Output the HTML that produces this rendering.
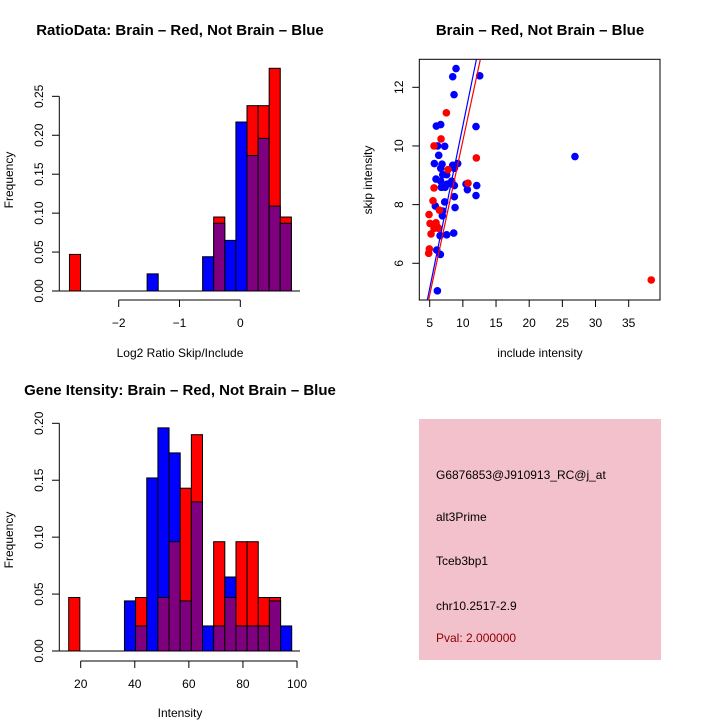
<!DOCTYPE html>
<html><head><meta charset="utf-8"><style>
html,body{margin:0;padding:0;background:#fff;}
svg{display:block;font-family:"Liberation Sans",sans-serif;}
</style></head><body>
<svg id="c" width="720" height="720" xmlns="http://www.w3.org/2000/svg">
<rect x="0" y="0" width="720" height="720" fill="#fff"/>
<g id="g1"></g>
<g id="g2"></g>
<g id="g3"></g>
<g id="g4">
<rect x="419" y="419" width="242" height="241" fill="#f3c1cc"/>
<text x="436" y="479" font-size="12">G6876853@J910913_RC@j_at</text>
<text x="436" y="521" font-size="12">alt3Prime</text>
<text x="436" y="565" font-size="12">Tceb3bp1</text>
<text x="436" y="610" font-size="12">chr10.2517-2.9</text>
<text x="436" y="642" font-size="12" fill="#8b0000">Pval: 2.000000</text>
</g>
</svg>
<script>
// Histogram 1 data
const h1Red  = [0.047,0,0,0,0,0,0,0,0,0,0,0,0,0.095,0,0,0.238,0.238,0.286,0.095];
const h1Blue = [0,0,0,0,0,0,0,0.022,0,0,0,0,0.044,0.087,0.065,0.217,0.174,0.196,0.109,0.087];
const h1Start = -2.81, h1Width = 0.1825;
const h1XTicks = [-2,-1,0];
const h1YTicks = [0,0.05,0.10,0.15,0.20,0.25];
// Histogram 2 data
const h2Red  = [0.047,0,0,0,0,0,0.047,0,0.047,0.096,0.143,0.190,0,0.096,0.047,0.096,0.096,0.047,0.047,0];
const h2Blue = [0,0,0,0,0,0.044,0.022,0.152,0.196,0.174,0.044,0.131,0.022,0.022,0.065,0.022,0.022,0.022,0.044,0.022];
const h2Start = 15.56, h2Width = 4.124;
const h2XTicks = [20,40,60,80,100];
const h2YTicks = [0,0.05,0.10,0.15,0.20];
// Scatter data
const blueX = [8.97,8.47,12.54,8.67,6.0,6.66,11.98,6.2,7.26,6.36,26.9,5.7,6.86,9.22,8.47,6.66,8.72,6.96,7.56,5.95,6.66,8.32,7.66,8.72,10.48,10.68,12.09,6.76,7.31,8.72,11.98,7.26,5.85,8.82,6.96,6.91,6.56,7.56,8.62,6.06,6.61,6.16];
const blueY = [12.64,12.36,12.39,11.75,10.68,10.73,10.66,10.0,9.99,9.68,9.64,9.40,9.38,9.40,9.34,9.24,9.24,9.02,9.02,8.87,8.80,8.80,8.70,8.65,8.70,8.51,8.65,8.59,8.59,8.27,8.31,8.09,7.95,7.90,7.78,7.62,6.94,6.97,7.03,6.45,6.30,5.06];
const redX = [7.51,6.71,5.65,12.03,7.76,5.65,10.78,5.50,4.9,5.05,6.46,5.95,6.06,5.65,5.2,4.95,4.85,38.4,6.36];
const redY = [11.13,10.24,10.0,9.59,9.19,8.57,8.73,8.13,7.66,7.36,7.81,7.38,7.27,7.19,7.0,6.49,6.34,5.43,7.19];
const fitSlope = [1.109, 1.052];
const fitIntercept = [-0.40, -0.34];
const fitColor = ['#0000ff','#ff0000'];
const scXTicks = [5,10,15,20,25,30,35];
const scYTicks = [6,8,10,12];

const NS='http://www.w3.org/2000/svg';
function mk(parent,tag,attrs,txt){const e=document.createElementNS(NS,tag);for(const k in attrs)e.setAttribute(k,attrs[k]);if(txt!==undefined)e.textContent=txt;parent.appendChild(e);return e;}

function histogram(g,red,blue,start,width,xt,yt,xs,ys,axY,lbls){
  const fmt=v=>v.toFixed(2);
  for(let i=0;i<red.length;i++){
    const x0=xs(start+i*width),x1=xs(start+(i+1)*width);
    const r=red[i],b=blue[i];
    const hi=Math.max(r,b),lo=Math.min(r,b);
    if(hi>0){
      const el=mk(g,'rect',{x:x0,y:ys(hi),width:x1-x0,height:ys(0)-ys(hi),fill:r>b?'#ff0000':'#0000ff',stroke:'#000','stroke-width':1});
      
      
    }
    if(lo>0){
      const el=mk(g,'rect',{x:x0,y:ys(lo),width:x1-x0,height:ys(0)-ys(lo),fill:'#7f007f',stroke:'#000','stroke-width':1});
      
      
    }
  }
  const base=mk(g,'line',{x1:59.3,x2:300,y1:ys(0),y2:ys(0),stroke:'#000'});
  
  
  const xa=mk(g,'line',{x1:xs(xt[0]),x2:xs(xt[xt.length-1]),y1:axY,y2:axY,stroke:'#000'});
  
  
  xt.forEach(t=>{
    mk(g,'line',{x1:xs(t),x2:xs(t),y1:axY,y2:axY+7,stroke:'#000'});
    const tx=mk(g,'text',{x:xs(t),y:axY+27,'font-size':12,'text-anchor':'middle'},String(t).replace('-','\u2212'));
    
    
  });
  const ya=mk(g,'line',{x1:59.3,x2:59.3,y1:ys(yt[0]),y2:ys(yt[yt.length-1]),stroke:'#000'});
  
  
  yt.forEach(t=>{
    mk(g,'line',{x1:52,x2:59.3,y1:ys(t),y2:ys(t),stroke:'#000'});
    const tx=mk(g,'text',{x:0,y:0,'font-size':12,'text-anchor':'middle',transform:`translate(43,${ys(t)}) rotate(-90)`},fmt(t));
    
    
  });
  const ti=mk(g,'text',{x:180,y:lbls.ty,'font-size':15,'font-weight':'bold','text-anchor':'middle'},lbls.title);
  
  
  const xl=mk(g,'text',{x:180,y:lbls.xly,'font-size':12,'text-anchor':'middle'},lbls.xl);
  
  
  const yl=mk(g,'text',{x:0,y:0,'font-size':12,'text-anchor':'middle',transform:`translate(13,${lbls.yly}) rotate(-90)`},'Frequency');
  
  
}

// plot 1
{
  const xs=v=>240.3+v*60.8, ys=v=>291-v*778.7;
  histogram(document.getElementById('g1'),h1Red,h1Blue,h1Start,h1Width,h1XTicks,h1YTicks,xs,ys,300,
    {title:'RatioData: Brain \u2013 Red, Not Brain \u2013 Blue',ty:35,xl:'Log2 Ratio Skip/Include',xly:357,yly:180});
}
// plot 3
{
  const xs=v=>80.7+(v-20)*2.704, ys=v=>651-v*1138.5;
  histogram(document.getElementById('g3'),h2Red,h2Blue,h2Start,h2Width,h2XTicks,h2YTicks,xs,ys,661,
    {title:'Gene Itensity: Brain \u2013 Red, Not Brain \u2013 Blue',ty:395,xl:'Intensity',xly:717,yly:540});
}
// scatter
{
  const g=document.getElementById('g2');
  const L=419.3,R=660,T=59.3,B=300;
  const xs=v=>429.7+(v-5)*6.633, ys=v=>87.3-(v-12)*29.33;
  const xmin=3.43,xmax=39.7,ymin=4.75,ymax=12.95;
  const box=mk(g,'rect',{x:L,y:T,width:R-L,height:B-T,fill:'none',stroke:'#000'});
  
  
  blueX.forEach((x,i)=>{
    const c=mk(g,'circle',{cx:xs(x),cy:ys(blueY[i]),r:3.8,fill:'#0000ff'});
    
    
  });
  redX.forEach((x,i)=>{
    const c=mk(g,'circle',{cx:xs(x),cy:ys(redY[i]),r:3.8,fill:'#ff0000'});
    
    
  });
  fitSlope.forEach((s,i)=>{
    const b=fitIntercept[i];
    let xa=(ymin-b)/s, xb=(ymax-b)/s;
    xa=Math.max(xa,xmin); xb=Math.min(xb,xmax);
    const l=mk(g,'line',{x1:xs(xa),y1:ys(s*xa+b),x2:xs(xb),y2:ys(s*xb+b),stroke:fitColor[i],'stroke-width':1.2});
    
    
  });
  scXTicks.forEach(t=>{
    mk(g,'line',{x1:xs(t),x2:xs(t),y1:B,y2:B+7,stroke:'#000'});
    const tx=mk(g,'text',{x:xs(t),y:B+27,'font-size':12,'text-anchor':'middle'},String(t));
    
    
  });
  scYTicks.forEach(t=>{
    mk(g,'line',{x1:L-7,x2:L,y1:ys(t),y2:ys(t),stroke:'#000'});
    const tx=mk(g,'text',{x:0,y:0,'font-size':12,'text-anchor':'middle',transform:`translate(403,${ys(t)}) rotate(-90)`},String(t));
    
    
  });
  const ti=mk(g,'text',{x:540,y:35,'font-size':15,'font-weight':'bold','text-anchor':'middle'},'Brain \u2013 Red, Not Brain \u2013 Blue');
  
  
  const xl=mk(g,'text',{x:540,y:357,'font-size':12,'text-anchor':'middle'},'include intensity');
  
  
  const yl=mk(g,'text',{x:0,y:0,'font-size':12,'text-anchor':'middle',transform:'translate(372,180) rotate(-90)'},'skip intensity');
  
  
}
</script>
</body></html>
